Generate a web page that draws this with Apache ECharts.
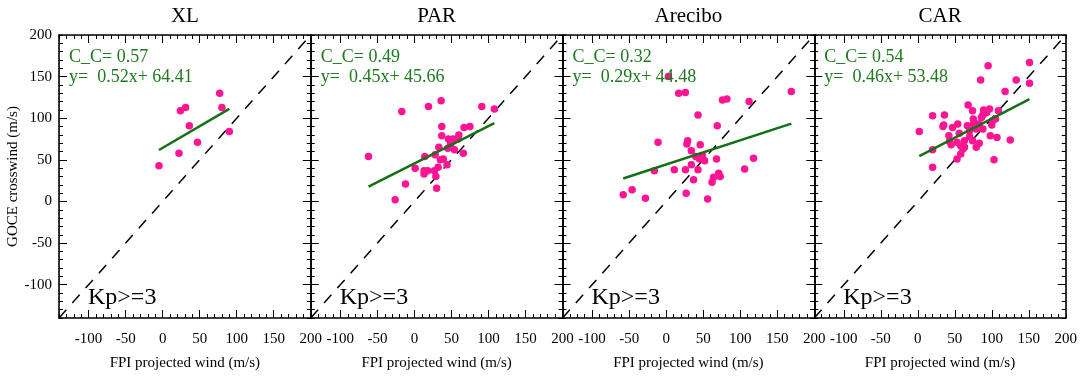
<!DOCTYPE html>
<html>
<head>
<meta charset="utf-8">
<script src="https://cdn.jsdelivr.net/npm/echarts@6/dist/echarts.min.js"></script>
<style>
html,body{margin:0;padding:0;background:#fff;}
#chart{width:1080px;height:379px;}
</style>
</head>
<body>
<div id="chart"></div>
<script>
// ---- data ----
const panelNames = ['XL', 'PAR', 'Arecibo', 'CAR'];
const ccValues = ['0.57', '0.49', '0.32', '0.54'];
const slopes = [0.52, 0.45, 0.29, 0.46];
const intercepts = [64.41, 45.66, 44.48, 53.48];
const axisRange = [-140, 200];
const tickLabels = [-100, -50, 0, 50, 100, 150, 200];
const kpLabel = 'Kp>=3';
const xName = 'FPI projected wind (m/s)';
const yName = 'GOCE crosswind (m/s)';

const xlFpi  = [77, 24, 31, 80, 36, 90, 47, 22, -5];
const xlGoce = [130, 109, 113, 113, 91, 84, 71, 58, 43];

const parFpi  = [36, 19, -17, 91, 108, 37, 67, 75, 37, 60, 46, 52, 59, 49, 33, 45, 54, 66, -62, 14, 28, 35, 39, 44, 32, 1, 13, 18, 13, 27, 29, -12, 30, -26];
const parGoce = [121, 114, 108, 114, 111, 90, 89, 90, 79, 80, 75, 75, 75, 69, 65, 64, 62, 58, 54, 54, 56, 50, 51, 44, 41, 40, 37, 37, 33, 37, 30, 21, 16, 2];

const areFpi  = [3, 17, 26, 169, 76, 82, 112, 43, 69, -11, 29, 28, 46, 34, 40, 49, 45, 52, 68, 118, 34, -16, 11, 26, 43, 106, 71, 73, 64, 37, 62, -58, -46, -28, 27, 56];
const areGoce = [150, 130, 131, 132, 122, 123, 120, 104, 91, 71, 73, 69, 68, 61, 54, 55, 51, 49, 51, 52, 44, 37, 38, 38, 38, 39, 34, 30, 29, 26, 23, 8, 14, 4, 10, 3];

const carFpi  = [95, 151, 85, 133, 151, 118, 68, 74, 89, 97, 109, 20, 36, 88, 93, 75, 86, 105, 101, 54, 34, 35, 47, 67, 70, 76, 83, 100, 79, 88, 70, 2, 56, 42, 98, 107, 125, 70, 63, 53, 43, 74, 83, 45, 58, 63, 79, 61, 20, 58, 53, 103, 20];
const carGoce = [163, 167, 146, 146, 142, 132, 116, 109, 110, 111, 109, 103, 104, 104, 107, 99, 101, 99, 97, 93, 90, 92, 89, 91, 90, 95, 93, 92, 87, 87, 85, 84, 82, 79, 79, 77, 74, 78, 73, 71, 72, 73, 70, 68, 67, 65, 65, 63, 62, 57, 51, 50, 41];

const fpiSets = [xlFpi, parFpi, areFpi, carFpi];
const goceSets = [xlGoce, parGoce, areGoce, carGoce];

// ---- layout ----
const gridLeft0 = 59, gridW = 251.75, gridTop = 35, gridH = 283;
const serif = 'Liberation Serif';
const green = '#1f7a1f';
const lineGreen = '#137013';
const pink = '#FF1493';
const majorTicks = tickLabels.slice(0, -1);

const grids = [], xAxes = [], yAxes = [], series = [], graphics = [];

panelNames.forEach((name, i) => {
  const left = gridLeft0 + i * gridW;
  grids.push({left: left, top: gridTop, width: gridW, height: gridH});
  const base = {gridIndex: i, type: 'value', min: axisRange[0], max: axisRange[1], splitLine: {show: false}};
  // bottom main axis: line, minor ticks, labels, name
  xAxes.push(Object.assign({}, base, {
    position: 'bottom', interval: 10,
    axisLine: {show: true, onZero: false, lineStyle: {color: '#000', width: 1.6}},
    axisTick: {show: true, inside: true, length: 4, lineStyle: {color: '#000', width: 1}},
    axisLabel: {show: true, customValues: tickLabels, margin: 14, fontFamily: serif, fontSize: 15, color: '#000'},
    name: xName, nameLocation: 'middle', nameGap: 38,
    nameTextStyle: {fontFamily: serif, fontSize: 15, color: '#000'}
  }));
  xAxes.push(Object.assign({}, base, {
    position: 'bottom',
    axisLine: {show: false, onZero: false},
    axisTick: {show: true, inside: true, length: 8, customValues: majorTicks, lineStyle: {color: '#000', width: 1}},
    axisLabel: {show: false}
  }));
  xAxes.push(Object.assign({}, base, {
    position: 'top', interval: 10,
    axisLine: {show: true, onZero: false, lineStyle: {color: '#000', width: 1.6}},
    axisTick: {show: true, inside: true, length: 4, lineStyle: {color: '#000', width: 1}},
    axisLabel: {show: false}
  }));
  xAxes.push(Object.assign({}, base, {
    position: 'top',
    axisLine: {show: false, onZero: false},
    axisTick: {show: true, inside: true, length: 8, customValues: majorTicks, lineStyle: {color: '#000', width: 1}},
    axisLabel: {show: false}
  }));
  // y axes
  yAxes.push(Object.assign({}, base, {
    position: 'left', interval: 10,
    axisLine: {show: true, onZero: false, lineStyle: {color: '#000', width: 1.6}},
    axisTick: {show: true, inside: true, length: 4, lineStyle: {color: '#000', width: 1}},
    axisLabel: {show: i === 0, customValues: tickLabels, margin: 7, fontFamily: serif, fontSize: 15, color: '#000'},
    name: i === 0 ? yName : '', nameLocation: 'middle', nameGap: 38, nameRotate: 90,
    nameTextStyle: {fontFamily: serif, fontSize: 15, color: '#000'}
  }));
  yAxes.push(Object.assign({}, base, {
    position: 'left',
    axisLine: {show: false, onZero: false},
    axisTick: {show: true, inside: true, length: 8, customValues: majorTicks, lineStyle: {color: '#000', width: 1}},
    axisLabel: {show: false}
  }));
  yAxes.push(Object.assign({}, base, {
    position: 'right', interval: 10,
    axisLine: {show: true, onZero: false, lineStyle: {color: '#000', width: 1.6}},
    axisTick: {show: true, inside: true, length: 4, lineStyle: {color: '#000', width: 1}},
    axisLabel: {show: false}
  }));
  yAxes.push(Object.assign({}, base, {
    position: 'right',
    axisLine: {show: false, onZero: false},
    axisTick: {show: true, inside: true, length: 8, customValues: majorTicks, lineStyle: {color: '#000', width: 1}},
    axisLabel: {show: false}
  }));

  const xi = i * 4, yi = i * 4;
  // 1:1 dashed line
  series.push({
    type: 'line', xAxisIndex: xi, yAxisIndex: yi, silent: true, symbol: 'none',
    data: [[axisRange[0], axisRange[0]], [axisRange[1], axisRange[1]]],
    lineStyle: {color: '#000', width: 1.5, type: [11, 9]}, z: 2
  });
  // scatter points
  const fpi = fpiSets[i], goce = goceSets[i];
  series.push({
    type: 'scatter', xAxisIndex: xi, yAxisIndex: yi, symbol: 'circle', symbolSize: 7.5,
    itemStyle: {color: pink, opacity: 1},
    data: fpi.map((v, k) => [v, goce[k]]), z: 3
  });
  // regression line across data x range
  const xMin = Math.min.apply(null, fpi), xMax = Math.max.apply(null, fpi);
  series.push({
    type: 'line', xAxisIndex: xi, yAxisIndex: yi, silent: true, symbol: 'none',
    data: [[xMin, slopes[i] * xMin + intercepts[i]], [xMax, slopes[i] * xMax + intercepts[i]]],
    lineStyle: {color: lineGreen, width: 2.5}, z: 4
  });

  // texts
  graphics.push({type: 'text', x: left + gridW / 2, y: 16, z: 10,
    style: {text: name, font: '21px "Liberation Serif"', fill: '#000', textAlign: 'center', textVerticalAlign: 'middle'}});
  graphics.push({type: 'text', x: left + 10, y: 57, z: 10,
    style: {text: 'C_C= ' + ccValues[i], font: '18px "Liberation Serif"', fill: green, textAlign: 'left', textVerticalAlign: 'middle'}});
  graphics.push({type: 'text', x: left + 10, y: 77, z: 10,
    style: {text: 'y=  ' + slopes[i].toFixed(2) + 'x+ ' + intercepts[i].toFixed(2), font: '18px "Liberation Serif"', fill: green, textAlign: 'left', textVerticalAlign: 'middle'}});
  graphics.push({type: 'text', x: left + 29, y: 298, z: 10,
    style: {text: kpLabel, font: '24px "Liberation Serif"', fill: '#000', textAlign: 'left', textVerticalAlign: 'middle'}});
});

const chart = echarts.init(document.getElementById('chart'), null, {renderer: 'canvas'});
chart.setOption({
  backgroundColor: '#fff',
  animation: false,
  grid: grids,
  xAxis: xAxes,
  yAxis: yAxes,
  series: series,
  graphic: graphics
});
</script>
</body>
</html>
